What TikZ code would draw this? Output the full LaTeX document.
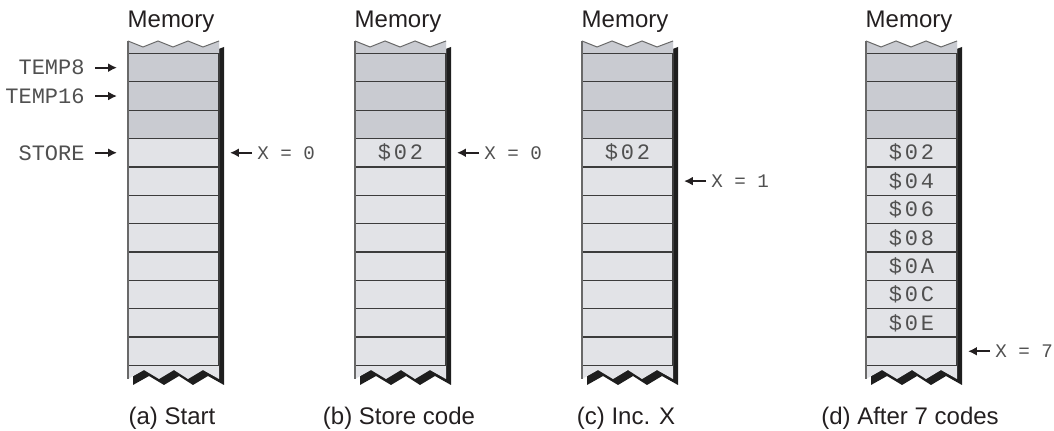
\documentclass[tikz,border=0pt]{standalone}
\usepackage{fontspec}
\setmainfont{Liberation Sans}
\setmonofont{Liberation Mono}
\usetikzlibrary{positioning,arrows.meta}

\definecolor{celldark}{RGB}{201,203,209}
\definecolor{celllight}{RGB}{226,227,231}
\definecolor{gridline}{RGB}{60,60,60}
\definecolor{coledge}{RGB}{105,105,105}
\definecolor{colshadow}{RGB}{30,30,30}
\definecolor{labeltext}{RGB}{80,80,80}
\definecolor{inktext}{RGB}{35,31,32}

\tikzset{
  cell/.style={draw=gridline, line width=0.6pt, minimum width=45.5pt,
    minimum height=14.18pt, inner sep=0pt, outer sep=0pt},
  darkcell/.style={cell, fill=celldark},
  lightcell/.style={cell, fill=celllight},
  memtitle/.style={anchor=base, inner sep=0pt, text=inktext,
    font=\fontsize{12}{14}\selectfont},
  addr/.style={inner sep=0pt, text=labeltext,
    font=\fontsize{11}{13}\ttfamily},
  xreg/.style={inner sep=0pt, text=labeltext,
    font=\fontsize{9.6}{12}\ttfamily},
  value/.style={inner sep=0pt, text=labeltext,
    font=\fontsize{11}{13}\ttfamily\addfontfeature{LetterSpace=13}},
  ptr/.style={-{Latex[length=4.4pt,width=4.4pt]}, line width=0.9pt, draw=inktext},
}

% outline of one memory strip, torn at top and bottom
\newcommand{\coloutline}{(0,41) -- (15,47) -- (30,41) -- (45,47) -- (60,41)
  -- (75,47) -- (91,41) -- (91,379) -- (75,370) -- (60,379) -- (46,370)
  -- (31,379) -- (16,370) -- (0,379) -- cycle}

% #1 = name, #2 = left edge, #3 = caption
\newcommand{\memcolumn}[3]{%
  \begin{scope}[shift={(#2,0)}]
    % drop shadow
    \fill[colshadow, shift={(5,6)}] \coloutline;
    \fill[celllight] \coloutline;
    \fill[celldark] (0,41) -- (15,47) -- (30,41) -- (45,47) -- (60,41)
      -- (75,47) -- (91,41) -- (91,53.5) -- (0,53.5) -- cycle;
    % cells
    \foreach \i in {1,2,3}
      \node[darkcell] (#1-\i) at (45.5,{53.5+28.36*(\i-0.5)}) {};
    \foreach \i in {4,...,11}
      \node[lightcell] (#1-\i) at (45.5,{53.5+28.36*(\i-0.5)}) {};
    \draw[coledge, line width=0.5pt] (0,41) -- (15,47) -- (30,41) -- (45,47)
      -- (60,41) -- (75,47) -- (91,41);
    \draw[coledge, line width=0.8pt] (0,41) -- (0,379);
    \node[memtitle] (#1-title) at (43,28) {Memory};
    \node[memtitle] (#1-caption) at (44,425) {#3};
  \end{scope}}

\begin{document}
\begin{tikzpicture}[x=0.5pt, y=-0.5pt]
  \useasboundingbox (0,0) rectangle (1054,431);

  \memcolumn{a}{128}{(a) Start}
  \memcolumn{b}{355}{(b) Store code}
  \memcolumn{c}{582}{(c) Inc. X}
  \memcolumn{d}{866}{(d) After 7 codes}

  % symbolic addresses
  \node[addr, left=21.5pt of a-1] (temp8) {TEMP8};
  \node[addr, left=21.5pt of a-2] (temp16) {TEMP16};
  \node[addr, left=21.5pt of a-4] (store) {STORE};
  \draw[ptr, shorten <=5pt, shorten >=5.5pt] (temp8) -- (a-1);
  \draw[ptr, shorten <=5pt, shorten >=5.5pt] (temp16) -- (a-2);
  \draw[ptr, shorten <=5pt, shorten >=5.5pt] (store) -- (a-4);

  % index register
  \node[xreg, right=19pt of a-4] (xa) {X = 0};
  \node[xreg, right=19pt of b-4] (xb) {X = 0};
  \node[xreg, right=19pt of c-5] (xc) {X = 1};
  \node[xreg, right=19pt of d-11] (xd) {X = 7};
  \foreach \r/\c in {xa/a-4, xb/b-4, xc/c-5, xd/d-11}
    \draw[ptr, shorten <=2.5pt, shorten >=5.5pt] (\r) -- (\c);

  % stored codes
  \node[value] (b-v4) at (b-4) {\$02};
  \node[value] (c-v4) at (c-4) {\$02};
  \foreach \v [count=\k from 4] in {02,04,06,08,0A,0C,0E}
    \node[value] (d-v\k) at (d-\k) {\$\v};
\end{tikzpicture}
\end{document}
